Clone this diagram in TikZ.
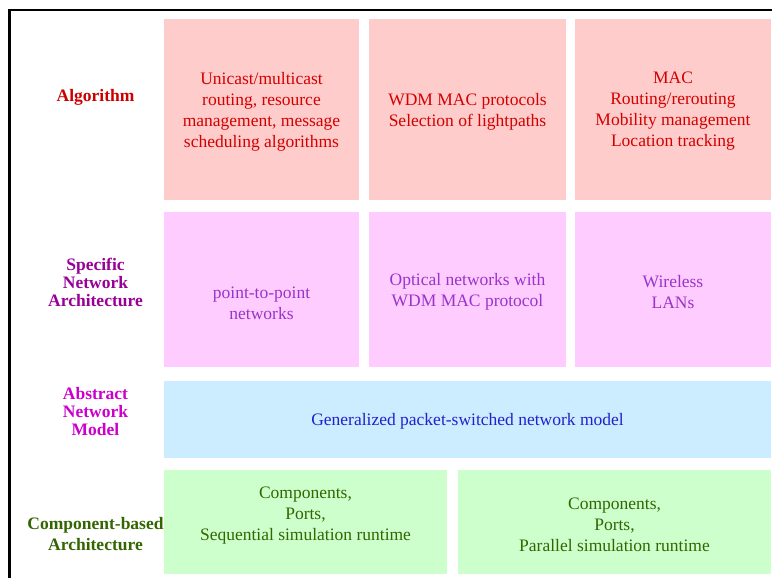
\documentclass[tikz,border=0pt]{standalone}
\usepackage{fontspec}
\setmainfont{Liberation Serif}
\definecolor{algfill}{HTML}{FFCCCC}
\definecolor{archfill}{HTML}{FFCCFF}
\definecolor{absfill}{HTML}{CCECFF}
\definecolor{compfill}{HTML}{CCFFCC}
\definecolor{algtext}{HTML}{D40000}
\definecolor{archtext}{HTML}{9933CC}
\definecolor{abstext}{HTML}{2222CC}
\definecolor{comptext}{HTML}{336600}
\definecolor{alglbl}{HTML}{CC0000}
\definecolor{archlbl}{HTML}{990099}
\definecolor{abslbl}{HTML}{CC00CC}
\definecolor{complbl}{HTML}{336600}
\begin{document}
\begin{tikzpicture}[x=1pt,y=-1pt,
  cell/.style={draw=none, inner sep=0pt, outer sep=0pt, anchor=north west},
  txt/.style={align=center, font=\fontsize{17.5}{21}\selectfont, inner sep=0pt},
  lbl/.style={align=center, font=\fontsize{17.5}{18}\selectfont\bfseries, inner sep=0pt}]
\useasboundingbox (0,0) rectangle (772,578);

% frame on the left and top edges
\coordinate (fbl) at (9.5,578);
\coordinate (ftl) at (9.5,10);
\coordinate (ftr) at (772,10);
\draw[line width=2.5pt] (fbl) -- (ftl) -- (ftr);

% layer 1: algorithms
\node[cell, fill=algfill, minimum width=195pt, minimum height=181pt] (a1) at (164,19) {};
\node[cell, fill=algfill, minimum width=197pt, minimum height=181pt] (a2) at (369,19) {};
\node[cell, fill=algfill, minimum width=196pt, minimum height=181pt] (a3) at (575,19) {};
% layer 2: specific network architectures
\node[cell, fill=archfill, minimum width=195pt, minimum height=155pt] (s1) at (164,212) {};
\node[cell, fill=archfill, minimum width=197pt, minimum height=155pt] (s2) at (369,212) {};
\node[cell, fill=archfill, minimum width=196pt, minimum height=155pt] (s3) at (575,212) {};
% layer 3: abstract network model
\node[cell, fill=absfill, minimum width=607pt, minimum height=77pt] (m1) at (164,381) {};
% layer 4: component-based architecture
\node[cell, fill=compfill, minimum width=283pt, minimum height=104pt] (c1) at (164,470) {};
\node[cell, fill=compfill, minimum width=313pt, minimum height=104pt] (c2) at (458,470) {};

% layer labels
\node[lbl, text=alglbl] (la) at (95.5,97) {Algorithm};
\node[lbl, text=archlbl] (ls) at (95.5,282) {Specific\\Network\\Architecture};
\node[lbl, text=abslbl] (lm) at (95.5,412) {Abstract\\Network\\Model};
\node[lbl, text=complbl, font=\fontsize{17.5}{21}\selectfont\bfseries] (lc) at (95.5,534.5) {Component-based\\Architecture};

% cell contents
\node[txt, text=algtext] (ta1) at (261.5,111.5) {Unicast/multicast\\routing, resource\\management, message\\scheduling algorithms};
\node[txt, text=algtext] (ta2) at (467.5,111.5) {WDM MAC protocols\\Selection of lightpaths};
\node[txt, text=algtext] (ta3) at (673,111.5) {MAC\\Routing/rerouting\\Mobility management\\Location tracking};

\node[txt, text=archtext] (ts1) at (261.5,303) {point-to-point\\networks};
\node[txt, text=archtext] (ts2) at (467.5,292) {Optical networks with\\WDM MAC protocol};
\node[txt, text=archtext] (ts3) at (673,292) {Wireless\\LANs};

\node[txt, text=abstext] (tm1) at (467.5,421.5) {Generalized packet-switched network model};

\node[txt, text=comptext] (tc1) at (305.5,516) {Components,\\Ports,\\Sequential simulation runtime};
\node[txt, text=comptext] (tc2) at (614.5,525) {Components,\\Ports,\\Parallel simulation runtime};
\end{tikzpicture}
\end{document}
